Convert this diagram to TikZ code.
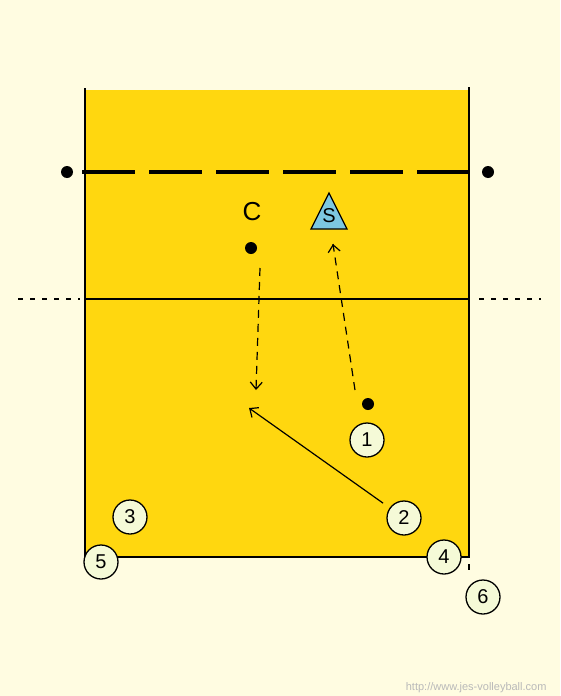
\documentclass[tikz,border=0pt]{standalone}
\usepackage{fontspec}
\setmainfont{Liberation Sans}
\usetikzlibrary{arrows.meta,calc}
\definecolor{paper}{RGB}{255,252,225}
\definecolor{court}{RGB}{255,215,15}
\definecolor{chip}{RGB}{245,250,215}
\definecolor{setterblue}{RGB}{125,200,225}
\definecolor{mark}{RGB}{185,185,185}
\begin{document}
\begin{tikzpicture}[x=1pt, y=-1pt,
    player/.style={circle, draw, line width=1.3pt, fill=chip, minimum size=34pt, inner sep=0pt, font=\fontsize{20}{20}\selectfont},
    spot/.style={circle, fill=black, minimum size=12pt, inner sep=0pt},
    run/.style={line width=1.2pt, dash pattern=on 8pt off 6pt},
    tip/.style={->, line width=1.2pt},
    pass/.style={->, line width=1.2pt},
    >={Straight Barb[length=7pt, width=12pt]}]
    % Hintergrund
    \fill[paper] (0,0) rectangle (560,696);
    \useasboundingbox (0,0) rectangle (560,696);

    % Spielfeld
    \fill[court] (85,90) rectangle (469,557);
    \draw[line width=2.8pt] (85,88) -- (85,557) -- (469,557) -- (469,87);
    \draw[line width=2.8pt] (469,564) -- (469,570);

    % Netz und Antennen
    \draw[line width=4.5pt, dash pattern=on 53pt off 14pt] (82,172) -- (474,172);
    \node[spot] (postl) at (67,172) {};
    \node[spot] (postr) at (488,172) {};

    % Angriffslinie
    \draw[line width=2.3pt] (85,299) -- (469,299);
    \draw[line width=2.5pt, dash pattern=on 5pt off 7pt] (18,299) -- (80,299);
    \draw[line width=2.5pt, dash pattern=on 5pt off 7pt] (479,299) -- (541,299);

    % Zuspieler
    \draw[line width=1.3pt, fill=setterblue] (329,193) -- (347,229) -- (311,229) -- cycle;
    \node[font=\fontsize{20}{20}\selectfont] (setter) at (329,216) {S};

    % Positionen
    \node[font=\fontsize{26}{26}\selectfont] (clabel) at (252,212) {C};
    \node[spot] (cdot) at (251,248) {};
    \node[spot] (odot) at (368,404) {};
    \node[player] (p1) at (367,440) {1};
    \node[player] (p2) at (404,518) {2};
    \node[player] (p3) at (130,517) {3};
    \node[player] (p4) at (444,557) {4};
    \node[player] (p5) at (101,562) {5};
    \node[player] (p6) at (483,597) {6};

    % Laufwege und Pass
    \coordinate (cfrom) at (260,268);
    \coordinate (cto) at (256,390);
    \coordinate (ofrom) at (355,390);
    \coordinate (oto) at (333,244);
    \coordinate (target) at (249,408);
    \draw[run] (cfrom) -- (cto);
    \draw[tip] ($(cto)!3pt!(cfrom)$) -- (cto);
    \draw[run] (ofrom) -- (oto);
    \draw[tip] ($(oto)!3pt!(ofrom)$) -- (oto);
    \draw[pass, shorten <=8pt] (p2) -- (target);

    % Quelle
    \node[anchor=east, text=mark, font=\fontsize{11}{12}\selectfont] (url) at (550,688) {http://www.jes-volleyball.com};
\end{tikzpicture}
\end{document}
